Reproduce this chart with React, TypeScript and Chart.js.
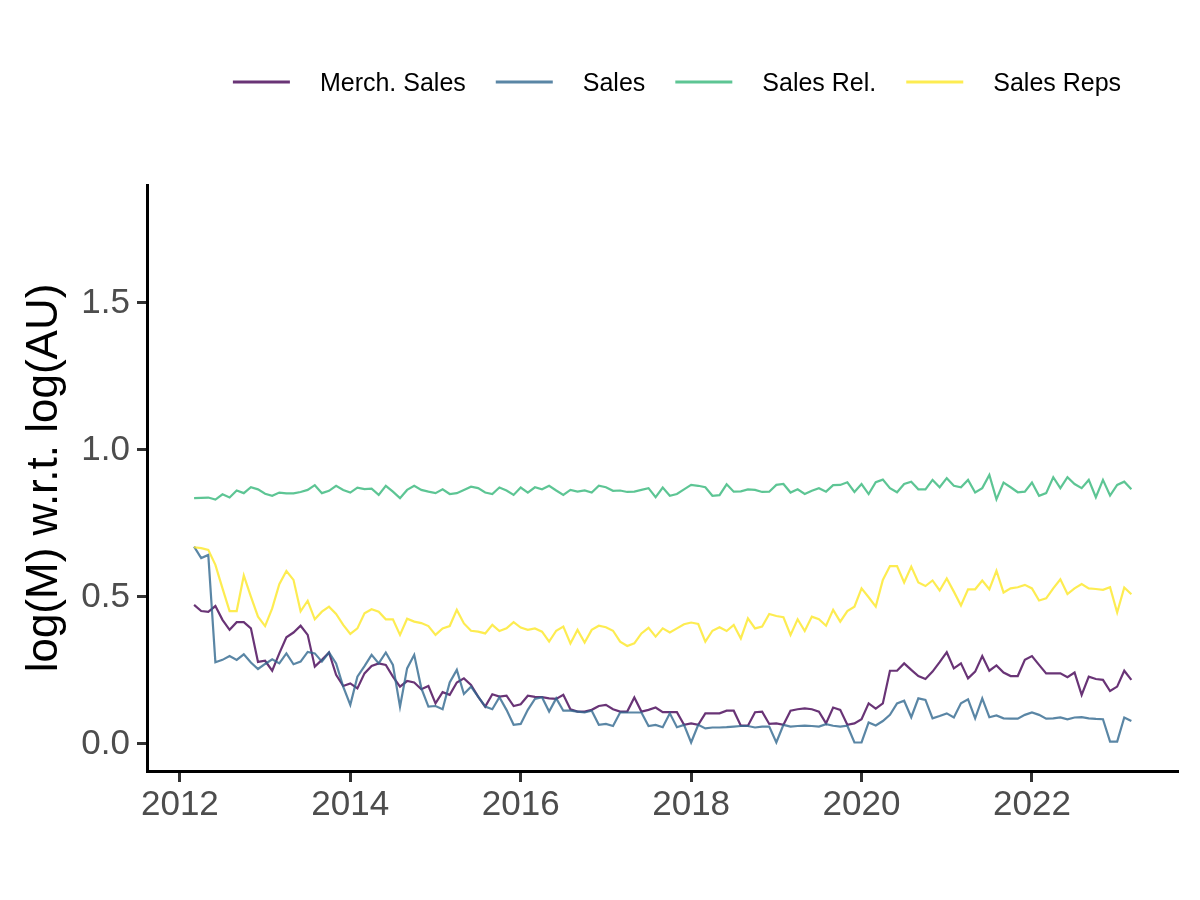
import React, { useEffect, useRef } from "react";
import { Chart, registerables } from "chart.js";

Chart.register(...registerables);

const FONT = "'Liberation Sans', Arial, Helvetica, sans-serif";

const START_YEAR = 2012;
const START_MONTH = 3;

const SERIES_NAMES = ["Merch. Sales", "Sales", "Sales Rel.", "Sales Reps"];
const SERIES_COLORS = [
  "rgba(68, 1, 84, 0.8)",
  "rgba(49, 104, 142, 0.8)",
  "rgba(53, 183, 121, 0.8)",
  "rgba(253, 231, 37, 0.8)",
];

const MERCH_SALES = [
  0.473, 0.452, 0.449, 0.469, 0.422, 0.388, 0.414, 0.414, 0.393, 0.279,
  0.283, 0.249, 0.308, 0.363, 0.379, 0.402, 0.371, 0.263, 0.286, 0.311,
  0.235, 0.197, 0.206, 0.189, 0.240, 0.265, 0.274, 0.269, 0.229, 0.195,
  0.214, 0.209, 0.186, 0.197, 0.138, 0.176, 0.167, 0.209, 0.223, 0.201,
  0.161, 0.127, 0.169, 0.161, 0.164, 0.129, 0.135, 0.164, 0.160, 0.159,
  0.155, 0.153, 0.167, 0.118, 0.110, 0.110, 0.116, 0.129, 0.133, 0.118,
  0.110, 0.110, 0.158, 0.110, 0.116, 0.124, 0.108, 0.108, 0.108, 0.065,
  0.070, 0.065, 0.104, 0.104, 0.104, 0.113, 0.113, 0.062, 0.062, 0.108,
  0.110, 0.068, 0.070, 0.065, 0.113, 0.118, 0.121, 0.118, 0.110, 0.070,
  0.124, 0.116, 0.065, 0.070, 0.084, 0.138, 0.120, 0.138, 0.249, 0.249,
  0.274, 0.252, 0.231, 0.221, 0.246, 0.278, 0.312, 0.257, 0.274, 0.223,
  0.246, 0.299, 0.249, 0.267, 0.243, 0.231, 0.231, 0.286, 0.299, 0.269,
  0.240, 0.240, 0.240, 0.227, 0.243, 0.167, 0.229, 0.221, 0.218, 0.180,
  0.195, 0.249, 0.218,
];

const SALES = [
  0.671, 0.632, 0.643, 0.278, 0.286, 0.299, 0.286, 0.305, 0.277, 0.255,
  0.272, 0.288, 0.274, 0.308, 0.271, 0.280, 0.313, 0.308, 0.280, 0.311,
  0.274, 0.195, 0.133, 0.229, 0.265, 0.303, 0.274, 0.311, 0.269, 0.127,
  0.257, 0.303, 0.190, 0.127, 0.129, 0.118, 0.209, 0.252, 0.170, 0.195,
  0.161, 0.127, 0.118, 0.159, 0.116, 0.065, 0.068, 0.116, 0.153, 0.159,
  0.110, 0.155, 0.113, 0.113, 0.110, 0.107, 0.113, 0.065, 0.068, 0.061,
  0.107, 0.107, 0.107, 0.107, 0.061, 0.065, 0.057, 0.104, 0.057, 0.065,
  0.005, 0.065, 0.053, 0.056, 0.056, 0.057, 0.059, 0.061, 0.061, 0.056,
  0.059, 0.059, 0.005, 0.065, 0.059, 0.061, 0.062, 0.061, 0.059, 0.067,
  0.062, 0.059, 0.062, 0.005, 0.005, 0.073, 0.063, 0.078, 0.099, 0.138,
  0.147, 0.091, 0.155, 0.150, 0.087, 0.095, 0.104, 0.090, 0.138, 0.152,
  0.087, 0.155, 0.091, 0.097, 0.087, 0.086, 0.086, 0.099, 0.107, 0.099,
  0.086, 0.087, 0.090, 0.084, 0.090, 0.091, 0.087, 0.085, 0.084, 0.008,
  0.008, 0.090, 0.078,
];

const SALES_REL = [
  0.836, 0.837, 0.838, 0.831, 0.849, 0.838, 0.862, 0.853, 0.873, 0.866,
  0.851, 0.844, 0.855, 0.852, 0.852, 0.857, 0.864, 0.880, 0.853, 0.861,
  0.878, 0.864, 0.855, 0.872, 0.867, 0.868, 0.847, 0.878, 0.858, 0.836,
  0.864, 0.878, 0.864, 0.858, 0.853, 0.866, 0.850, 0.853, 0.864, 0.875,
  0.870, 0.855, 0.850, 0.872, 0.862, 0.847, 0.872, 0.855, 0.873, 0.866,
  0.878, 0.862, 0.847, 0.864, 0.858, 0.862, 0.855, 0.878, 0.873, 0.861,
  0.862, 0.857, 0.858, 0.864, 0.870, 0.839, 0.872, 0.844, 0.850, 0.866,
  0.881, 0.878, 0.873, 0.844, 0.846, 0.883, 0.858, 0.859, 0.866, 0.864,
  0.857, 0.858, 0.881, 0.884, 0.855, 0.866, 0.850, 0.861, 0.870, 0.858,
  0.880, 0.881, 0.890, 0.857, 0.884, 0.850, 0.890, 0.899, 0.870, 0.856,
  0.884, 0.892, 0.866, 0.866, 0.898, 0.873, 0.904, 0.878, 0.873, 0.898,
  0.855, 0.870, 0.915, 0.832, 0.889, 0.873, 0.856, 0.858, 0.889, 0.844,
  0.853, 0.907, 0.870, 0.907, 0.884, 0.870, 0.898, 0.839, 0.898, 0.845,
  0.881, 0.892, 0.866,
];

const SALES_REPS = [
  0.669, 0.666, 0.660, 0.609, 0.529, 0.452, 0.452, 0.573, 0.501, 0.433,
  0.401, 0.461, 0.543, 0.588, 0.558, 0.451, 0.487, 0.424, 0.450, 0.467,
  0.442, 0.405, 0.374, 0.393, 0.444, 0.458, 0.450, 0.424, 0.424, 0.371,
  0.426, 0.416, 0.411, 0.401, 0.371, 0.393, 0.401, 0.456, 0.410, 0.385,
  0.382, 0.376, 0.405, 0.384, 0.393, 0.414, 0.396, 0.388, 0.393, 0.382,
  0.348, 0.385, 0.399, 0.342, 0.388, 0.345, 0.388, 0.402, 0.397, 0.385,
  0.348, 0.333, 0.342, 0.376, 0.395, 0.365, 0.393, 0.379, 0.393, 0.407,
  0.413, 0.408, 0.348, 0.385, 0.397, 0.384, 0.405, 0.359, 0.427, 0.393,
  0.399, 0.442, 0.435, 0.431, 0.371, 0.424, 0.384, 0.433, 0.424, 0.402,
  0.456, 0.416, 0.452, 0.467, 0.529, 0.499, 0.467, 0.558, 0.605, 0.605,
  0.549, 0.603, 0.549, 0.537, 0.556, 0.522, 0.563, 0.518, 0.471, 0.526,
  0.526, 0.556, 0.526, 0.589, 0.515, 0.529, 0.533, 0.541, 0.529, 0.488,
  0.495, 0.529, 0.560, 0.510, 0.529, 0.544, 0.529, 0.527, 0.524, 0.533,
  0.447, 0.532, 0.509,
];

const SERIES_VALUES = [MERCH_SALES, SALES, SALES_REL, SALES_REPS];

const X_TICKS = [2012, 2014, 2016, 2018, 2020, 2022];
const Y_TICKS = [0, 0.5, 1.0, 1.5];
const Y_TITLE = "log(M) w.r.t. log(AU)";

// month positions (decimal years) starting March 2012
const MONTHS = MERCH_SALES.map((_, i) => START_YEAR + (START_MONTH - 1 + i) / 12);

const legendPlugin = {
  id: "ggLegend",
  afterDraw(chart: any) {
    const ctx = chart.ctx as CanvasRenderingContext2D;
    const datasets = chart.data.datasets;
    ctx.save();
    ctx.font = `25px ${FONT}`;
    const lineW = 57;
    const gapLineText = 30;
    const gapTextLine = 30;
    const widths = datasets.map((d: any) => ctx.measureText(d.label).width);
    let total = 0;
    widths.forEach((w: number) => (total += lineW + gapLineText + w));
    total += gapTextLine * (datasets.length - 1);
    let x = 677 - total / 2;
    const yLine = 82;
    const yText = 91;
    datasets.forEach((d: any, i: number) => {
      ctx.strokeStyle = d.borderColor;
      ctx.lineWidth = 3;
      ctx.lineCap = "butt";
      ctx.beginPath();
      ctx.moveTo(x, yLine);
      ctx.lineTo(x + lineW, yLine);
      ctx.stroke();
      x += lineW + gapLineText;
      ctx.fillStyle = "#000000";
      ctx.textAlign = "left";
      ctx.textBaseline = "alphabetic";
      ctx.fillText(d.label, x, yText);
      x += widths[i] + gapTextLine;
    });
    ctx.restore();
  },
};

export default function App() {
  const canvasRef = useRef<HTMLCanvasElement | null>(null);

  useEffect(() => {
    if (!canvasRef.current) return;
    Chart.defaults.font.family = FONT;
    const datasets = SERIES_NAMES.map((name, k) => ({
      label: name,
      data: SERIES_VALUES[k].map((v, i) => ({ x: MONTHS[i], y: v })),
      borderColor: SERIES_COLORS[k],
      backgroundColor: SERIES_COLORS[k],
      borderWidth: 2.2,
      pointRadius: 0,
      tension: 0,
      fill: false,
      order: SERIES_NAMES.length - k,
    }));

    const chart = new Chart(canvasRef.current, {
      type: "line",
      data: { datasets },
      plugins: [legendPlugin],
      options: {
        responsive: false,
        animation: false,
        parsing: false as any,
        layout: { padding: { top: 185, right: 22, left: 0, bottom: 0 } },
        plugins: {
          legend: { display: false },
          tooltip: { enabled: false },
          title: { display: false },
        },
        scales: {
          x: {
            type: "linear",
            min: 2011.614,
            max: 2023.714,
            afterBuildTicks: (s: any) => {
              s.ticks = X_TICKS.map((v) => ({ value: v }));
            },
            afterFit: (s: any) => {
              s.height = 129;
            },
            grid: {
              display: true,
              drawOnChartArea: false,
              drawTicks: true,
              tickLength: 11,
              tickWidth: 3,
              tickColor: "#333333",
            },
            border: { display: true, color: "#000000", width: 3 },
            ticks: {
              color: "#4D4D4D",
              font: { size: 35, family: FONT },
              padding: 2,
              maxRotation: 0,
              autoSkip: false,
              callback: (v: any) => String(v),
            },
          },
          y: {
            type: "linear",
            min: -0.092,
            max: 1.901,
            afterBuildTicks: (s: any) => {
              s.ticks = Y_TICKS.map((v) => ({ value: v }));
            },
            afterFit: (s: any) => {
              s.width = 147;
            },
            grid: {
              display: true,
              drawOnChartArea: false,
              drawTicks: true,
              tickLength: 10,
              tickWidth: 3,
              tickColor: "#333333",
            },
            border: { display: true, color: "#000000", width: 3 },
            ticks: {
              color: "#4D4D4D",
              font: { size: 35, family: FONT },
              padding: 7,
              autoSkip: false,
              callback: (v: any) => Number(v).toFixed(1),
            },
            title: {
              display: true,
              text: Y_TITLE,
              color: "#000000",
              font: { size: 44, family: FONT },
              padding: { top: 18, bottom: 0 },
            },
          },
        },
      },
    });
    return () => chart.destroy();
  }, []);

  return (
    <div
      style={{
        position: "absolute",
        left: 0,
        top: 0,
        width: 1200,
        height: 900,
        background: "#ffffff",
      }}
    >
      <canvas
        ref={canvasRef}
        width={1200}
        height={900}
        style={{ display: "block", width: 1200, height: 900 }}
      />
    </div>
  );
}
